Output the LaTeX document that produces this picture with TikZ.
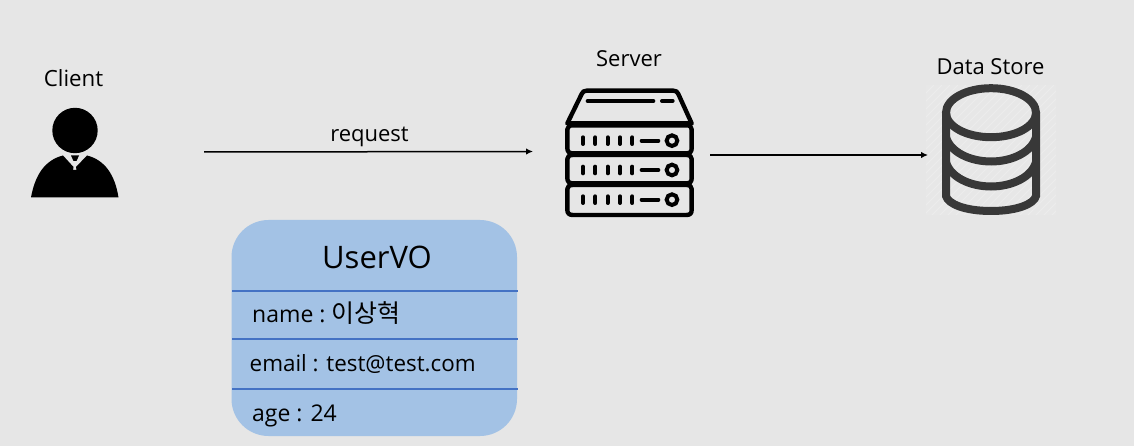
\documentclass[tikz,border=0pt]{standalone}
\usepackage{fontspec}
\setmainfont{Open Sans}
\newfontfamily\krfont{Noto Sans CJK KR}
\usetikzlibrary{arrows.meta}
\definecolor{bgc}{HTML}{E6E6E6}
\definecolor{boxc}{HTML}{A3C2E5}
\definecolor{linec}{HTML}{4472C4}
\definecolor{dbc}{HTML}{383838}
\tikzset{
  lbl/.style={inner sep=0pt,text=black},
  arrowline/.style={draw=black,line width=1.5pt,-{Latex[length=7pt,width=6.5pt]}},
  sep/.style={draw=linec,line width=1.7pt},
  srv/.style={draw=black,line width=4.4pt,line join=round,line cap=round},
  srvthin/.style={draw=black,line width=4pt,line cap=round},
  db/.style={draw=dbc,line width=8pt,line cap=round}
}
\begin{document}
\begin{tikzpicture}[x=1pt,y=-1pt]
\useasboundingbox (0,0) rectangle (1134,446);
\fill[bgc] (0,0) rectangle (1134,446);

% client icon
\fill[black] (75,130.5) circle (22.7);
\fill[black] (31,197.5) .. controls (35,175) and (45,160) .. (63,155.5)
  -- (73.5,167) -- (73,170) -- (76.5,170) -- (76,167)
  -- (87,155.5) .. controls (105,160) and (115,175) .. (118.5,197.5) -- cycle;
\fill[black] (71,155.5) -- (79,155.5) -- (76.5,161) -- (73.5,161) -- cycle;
\node[lbl,font=\fontsize{22.3}{26}\selectfont] (client) at (73.5,78) {Client};

% server icon
\begin{scope}[shift={(550,70)},x=0.3333pt,y=-0.3333pt]
\draw[srv] (52,160) -- (95,72) .. controls (98,65) and (102,62) .. (110,62)
  -- (370,62) .. controls (378,62) and (382,65) .. (385,72) -- (425,160) -- cycle;
\foreach \t/\b in {166/250,255/340,345/435}{
  \draw[srv] (68,\t) -- (410,\t) .. controls (420,\t) and (425,\t+5) .. (425,\t+12)
    -- (425,\b-15) .. controls (425,\b-5) and (420,\b) .. (410,\b)
    -- (68,\b) .. controls (58,\b) and (52,\b-5) .. (52,\b-15)
    -- (52,\t+12) .. controls (52,\t+5) and (58,\t) .. (68,\t) -- cycle;
}
\draw[srvthin] (113,93) -- (310,93);
\draw[srvthin] (336,93) -- (368,93);
\foreach \y in {212,300,389}{
  \foreach \x in {99,136,173,210,247}{
    \draw[srvthin] (\x,\y-10) -- (\x,\y+10);
  }
  \draw[srvthin] (275,\y) -- (325,\y);
  \draw[draw=black,line width=4pt] (366,\y) circle (16);
}
\end{scope}
\node[lbl,font=\fontsize{22}{26}\selectfont] (server) at (629,58.5) {Server};

% data store icon
\begin{scope}
\clip (926,85) rectangle (1056,215);
\fill[white,opacity=.06] (926,85) rectangle (1056,215);
\foreach \i in {0,8,...,264}{
  \draw[white,opacity=.22,line width=1pt] (926+\i,85) -- (926+\i-134,219);
}
\end{scope}
\draw[db] (991,112.7) ellipse (45 and 24.5);
\draw[db] (946,112.7) -- (946,196) .. controls (948,204) and (965,211) .. (991,211)
  .. controls (1017,211) and (1034,204) .. (1036,196) -- (1036,112.7);
\draw[db] (946,137) .. controls (950,152) and (970,161.5) .. (991,161.5)
  .. controls (1012,161.5) and (1032,152) .. (1036,137);
\draw[db] (946,162) .. controls (950,177) and (970,186.5) .. (991,186.5)
  .. controls (1012,186.5) and (1032,177) .. (1036,162);
\node[lbl,font=\fontsize{22}{26}\selectfont] (store) at (990.5,67) {Data Store};

% connectors
\coordinate (reqStart) at (204,152);
\coordinate (reqEnd) at (533,151.5);
\coordinate (dbStart) at (710,155);
\coordinate (dbEnd) at (928,155);
\draw[arrowline] (reqStart) -- (reqEnd);
\draw[arrowline] (dbStart) -- (dbEnd);
\node[lbl,font=\fontsize{22}{26}\selectfont] (request) at (369.5,136.5) {request};

% UserVO box
\node[fill=boxc,rounded corners=37pt,minimum width=285.5pt,minimum height=216pt,inner sep=0pt] (vo) at (374.25,328) {};
\draw[sep] (232,290.7) -- (518,290.7);
\draw[sep] (232,338.7) -- (518,338.7);
\draw[sep] (232,389) -- (518,389);
\node[lbl,font=\fontsize{31}{38}\selectfont] (votitle) at (377,257) {UserVO};
\node[lbl,anchor=base west,font=\fontsize{23}{28}\selectfont] (voname) at (252,322) {name :\hspace{-2pt} {\krfont\fontsize{25}{28}\selectfont 이상혁}};
\node[lbl,anchor=base west,font=\fontsize{22.4}{28}\selectfont] (voemail) at (249.5,371) {email : test@test.com};
\node[lbl,anchor=base west,font=\fontsize{23}{28}\selectfont] (voage) at (252,421) {age : 24};
\end{tikzpicture}
\end{document}
